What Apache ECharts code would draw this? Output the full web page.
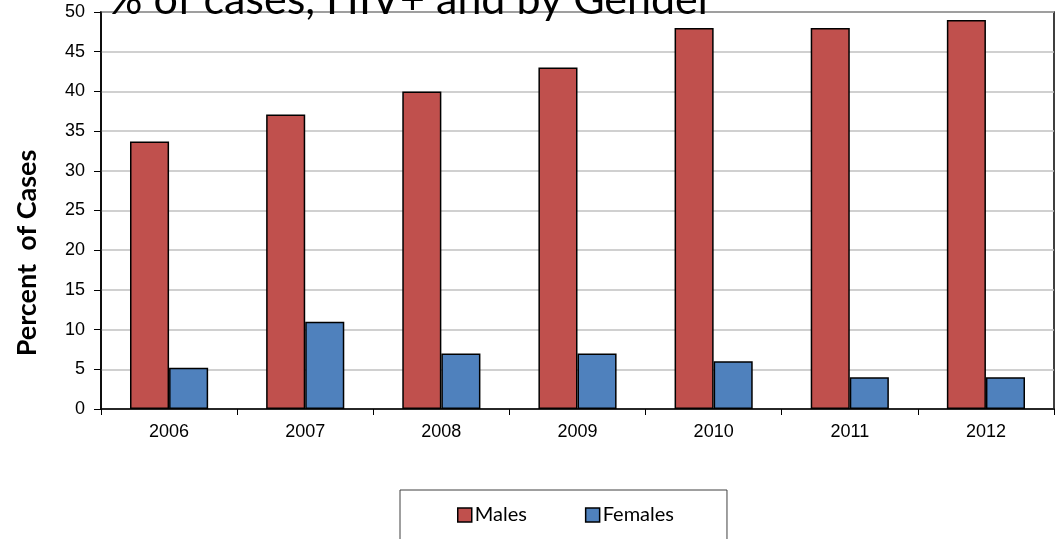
<!DOCTYPE html>
<html>
<head>
<meta charset="utf-8">
<script src="https://cdn.jsdelivr.net/npm/echarts@6/dist/echarts.min.js"></script>
<style>
  html, body { margin: 0; padding: 0; background: #fff; }
  #chart { width: 1060px; height: 539px; }
</style>
</head>
<body>
<div id="chart"></div>
<script>
// Share of cases that are HIV+, by year and gender
const years = ['2006', '2007', '2008', '2009', '2010', '2011', '2012'];
const males = [33.7, 37.1, 40, 43, 48, 48, 49];
const females = [5.2, 11, 7, 7, 6, 4, 4];
const yTicks = { min: 0, max: 50, interval: 5 };

const chart = echarts.init(document.getElementById('chart'), null, { renderer: 'canvas' });

const barBorder = { borderColor: '#000', borderWidth: 1.5 };

chart.setOption({
  animation: false,
  backgroundColor: '#fff',
  title: {
    text: '% of cases, HIV+ and by Gender',
    left: 108,
    top: -21,
    padding: 0,
    textStyle: { fontFamily: 'Lato', fontSize: 43, fontWeight: 'normal', color: '#000' }
  },
  graphic: [
    {
      type: 'text',
      x: 27,
      y: 253,
      rotation: Math.PI / 2,
      style: {
        text: 'Percent  of Cases',
        font: 'bold 27px Lato',
        fill: '#000',
        align: 'center',
        verticalAlign: 'middle'
      }
    }
  ],
  grid: {
    left: 101, right: 6, top: 12, bottom: 130,
    show: true, borderColor: '#000', borderWidth: 1.5, backgroundColor: '#fff'
  },
  legend: {
    data: ['Males', 'Females'],
    left: 400,
    top: 490,
    padding: [15, 53, 40, 57],
    itemGap: 58,
    itemWidth: 14,
    itemHeight: 14,
    borderColor: '#404040',
    borderWidth: 1,
    icon: 'rect',
    itemStyle: { borderColor: '#000', borderWidth: 1.5 },
    textStyle: { fontFamily: 'Lato', fontSize: 20, color: '#000', padding: [0, 0, 0, -2] }
  },
  xAxis: {
    type: 'category',
    data: years,
    axisLine: { lineStyle: { color: '#000', width: 1.5 } },
    axisTick: { show: true, alignWithLabel: false, length: 6, lineStyle: { color: '#000' } },
    axisLabel: { fontFamily: 'Liberation Sans', fontSize: 18, color: '#000', margin: 14 },
    splitLine: { show: false }
  },
  yAxis: {
    type: 'value',
    min: yTicks.min,
    max: yTicks.max,
    interval: yTicks.interval,
    axisLine: { show: true, lineStyle: { color: '#000', width: 1.5 } },
    axisTick: { show: true, length: 7, lineStyle: { color: '#000' } },
    axisLabel: { fontFamily: 'Liberation Sans', fontSize: 18, color: '#000', margin: 16 },
    splitLine: { show: true, lineStyle: { color: '#c0c0c0', width: 1.5 } }
  },
  series: [
    {
      name: 'Males',
      type: 'bar',
      data: males,
      barGap: '0%',
      barCategoryGap: '42.6%',
      itemStyle: Object.assign({ color: '#c0504d' }, barBorder)
    },
    {
      name: 'Females',
      type: 'bar',
      data: females,
      barGap: '0%',
      barCategoryGap: '42.6%',
      itemStyle: Object.assign({ color: '#4f81bd' }, barBorder)
    }
  ]
});
</script>
</body>
</html>
